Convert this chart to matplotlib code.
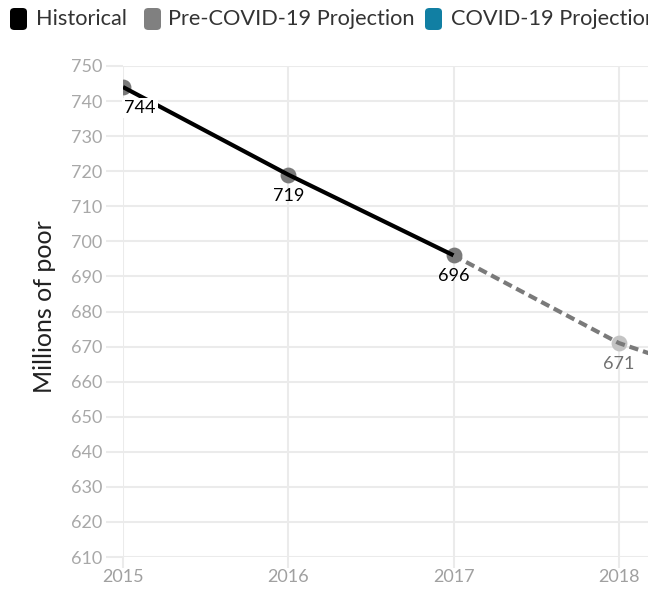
import matplotlib
matplotlib.use("Agg")
import matplotlib.pyplot as plt
from matplotlib.patches import FancyBboxPatch

years_hist = [2015, 2016, 2017]
poor_hist = [744, 719, 696]
years_pre = [2017, 2018, 2019]
poor_pre = [696, 671, 655]
label_years = [2015, 2016, 2017, 2018]
label_values = [744, 719, 696, 671]
y_ticks = list(range(610, 751, 10))
x_ticks = [2015, 2016, 2017, 2018]
legend_labels = ["Historical", "Pre-COVID-19 Projection", "COVID-19 Projection"]
legend_colors = ["#000000", "#808080", "#117fa3"]

plt.rcParams['font.family'] = ['Lato', 'DejaVu Sans']

fig = plt.figure(figsize=(6.48, 5.91), dpi=100)
ax = fig.add_axes([123/648, 1-557/591, 1-123/648, (557-66)/591])

ax.set_xlim(2015, 2015 + 525/165.3)
ax.set_ylim(610, 750)
ax.set_yticks(y_ticks)
ax.set_xticks(x_ticks)
ax.grid(True, color="#ebebeb", linewidth=1.5, zorder=0)
for s in ax.spines.values():
    s.set_visible(False)
ax.tick_params(axis='both', colors="#ebebeb", width=1.5, length=12, labelsize=13, pad=3)
for t in ax.get_yticklabels():
    t.set_color("#a8a8a8")
for t in ax.get_xticklabels():
    t.set_color("#a0a0a0")
ax.tick_params(axis='x', length=8, pad=1)
ax.set_axisbelow(True)

# markers
ax.scatter(years_hist, poor_hist, s=130, color="#7a7a7a", zorder=2, linewidths=0)
ax.scatter([years_pre[1]], [poor_pre[1]], s=130, color="#c4c4c4", zorder=2, linewidths=0)

ax.plot(years_hist, poor_hist, color="black", linewidth=3, zorder=3, solid_capstyle='butt')
ax.plot(years_pre, poor_pre, color="#7a7a7a", linewidth=3, linestyle=(0, (2.2, 1.2)), zorder=3)

offsets = [(17, -21), (0, -21), (0, -21), (0, -21)]
colors = ["black", "black", "black", "#707070"]
for (yr, v, off, c) in zip(label_years, label_values, offsets, colors):
    kw = {}
    if yr == 2015:
        kw['bbox'] = dict(boxstyle="square,pad=0.1", fc="white", ec="none")
    ax.annotate(str(v), (yr, v), xytext=off, textcoords="offset pixels",
                ha="center", va="center", fontsize=13, color=c, zorder=4, **kw)

ax.set_ylabel("Millions of poor", fontsize=18, color="#222222")
ax.yaxis.set_label_coords(-0.128, 0.51)

# legend
xs_box = [10, 144, 425]
xs_txt = [36, 168, 451]
for lab, col, xb, xt in zip(legend_labels, legend_colors, xs_box, xs_txt):
    p = FancyBboxPatch((xb/648, 1-30/591), 17/648, 22/591,
                       boxstyle="round,pad=0,rounding_size=0.007",
                       transform=fig.transFigure, fc=col, ec="none", mutation_aspect=591/648)
    fig.patches.append(p)
    fig.text(xt/648, 1-19/591, lab, fontsize=15.7, color="#333333", va="center", ha="left")

fig.savefig("out.png", dpi=100)
